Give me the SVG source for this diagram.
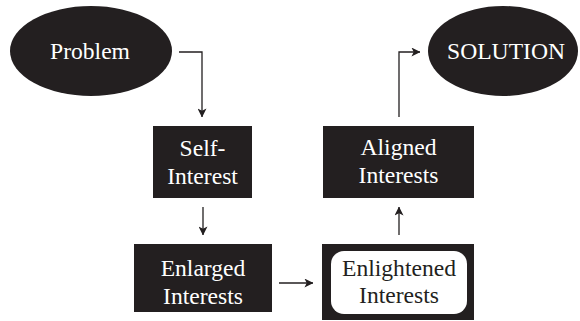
<svg xmlns="http://www.w3.org/2000/svg" width="580" height="321" viewBox="0 0 580 321">
  <style>
    .dark { fill: #231f20; }
    .lbl { font-family: "Liberation Serif", "Times New Roman", serif; font-size: 23.6px; text-anchor: middle; fill: #ffffff; }
    .lbl-dark { fill: #231f20; }
    .wire { fill: none; stroke: #231f20; stroke-width: 1.3; }
  </style>
  <defs>
    <marker id="arrow" viewBox="0 0 10 10" refX="9.5" refY="5" markerWidth="9" markerHeight="9" markerUnits="userSpaceOnUse" orient="auto">
      <path d="M0,0 L10,5 L0,10 L2.5,5 Z" fill="#231f20"/>
    </marker>
  </defs>
  <rect width="580" height="321" fill="#ffffff"/>

  <g id="problem">
    <ellipse class="dark" cx="91" cy="51" rx="81" ry="45"/>
    <text class="lbl" x="90" y="59">Problem</text>
  </g>

  <g id="solution">
    <ellipse class="dark" cx="503" cy="51" rx="75" ry="45"/>
    <text class="lbl" x="506" y="59">SOLUTION</text>
  </g>

  <g id="self-interest">
    <rect class="dark" x="153" y="126" width="99" height="72"/>
    <text class="lbl" x="202.5" y="156">Self-</text>
    <text class="lbl" x="202.5" y="184">Interest</text>
  </g>

  <g id="enlarged">
    <rect class="dark" x="134" y="244" width="138" height="68"/>
    <text class="lbl" x="203" y="276">Enlarged</text>
    <text class="lbl" x="203" y="304">Interests</text>
  </g>

  <g id="enlightened">
    <rect class="dark" x="322" y="244" width="152" height="76"/>
    <rect x="331" y="251" width="136" height="63" rx="13" ry="13" fill="#ffffff"/>
    <text class="lbl lbl-dark" x="399" y="276">Enlightened</text>
    <text class="lbl lbl-dark" x="399" y="303">Interests</text>
  </g>

  <g id="aligned">
    <rect class="dark" x="323" y="126" width="151" height="72"/>
    <text class="lbl" x="398.5" y="155">Aligned</text>
    <text class="lbl" x="398.5" y="183">Interests</text>
  </g>

  <g id="connectors">
    <polyline class="wire" points="179,52 202,52 202,117" marker-end="url(#arrow)"/>
    <line class="wire" x1="203" y1="207" x2="203" y2="235" marker-end="url(#arrow)"/>
    <line class="wire" x1="279" y1="283" x2="313" y2="283" marker-end="url(#arrow)"/>
    <line class="wire" x1="399" y1="235" x2="399" y2="207" marker-end="url(#arrow)"/>
    <polyline class="wire" points="399,117 399,52 420,52" marker-end="url(#arrow)"/>
  </g>
</svg>
